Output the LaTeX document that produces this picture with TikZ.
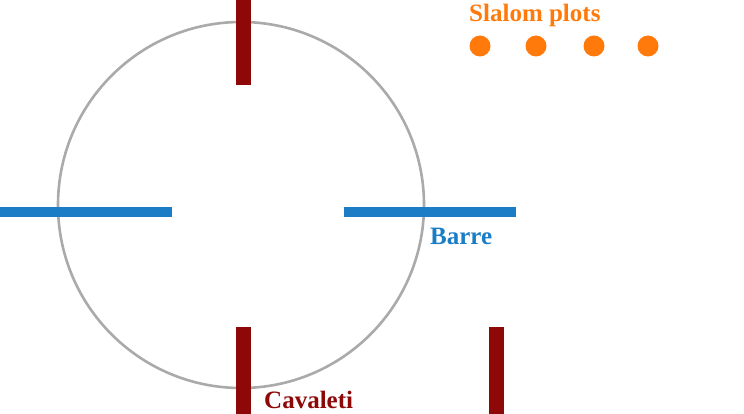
\documentclass[tikz,border=0pt]{standalone}
\usepackage{fontspec}
\setmainfont{Liberation Serif}
\usepackage{tikz}
\usetikzlibrary{
	positioning,									% 节点的高级摆放
}
\definecolor{cavaletired}{HTML}{8E0808}
\definecolor{barreblue}{HTML}{1A7DC6}
\definecolor{plotorange}{HTML}{FF7A0A}
\definecolor{arenagray}{HTML}{AAAAAA}

\begin{document}
\begin{tikzpicture}[x=1pt,y=-1pt,
		cavaleti/.style={fill=cavaletired},
		barre/.style={fill=barreblue},
		plot/.style={fill=plotorange},
		label text/.style={font=\bfseries\fontsize{25}{28}\selectfont, inner sep=0pt, anchor=base west}]
		\useasboundingbox (0,0) rectangle (744,414);
		% carrière
		\draw [arenagray, line width=2.6pt] (241,205) circle [radius=183];
		% barres
		\fill [barre] (0,207) rectangle (172,217);
		\fill [barre] (344,207) rectangle (516,217);
		% cavaletis
		\fill [cavaleti] (236,0) rectangle (251,85);
		\fill [cavaleti] (236,327) rectangle (251,414);
		\fill [cavaleti] (489,327) rectangle (504,414);
		% plots
		\foreach \x in {480,536,594,648}
			\fill [plot] (\x,46) circle [radius=10.5];
		% légendes
		\node [label text, text=barreblue] (barre) at (430,244) {Barre};
		\node [label text, text=cavaletired] (cavaleti) at (264,408) {Cavaleti};
		\node [label text, text=plotorange] (slalom) at (469,22) {Slalom plots};
	\end{tikzpicture}
\end{document}
